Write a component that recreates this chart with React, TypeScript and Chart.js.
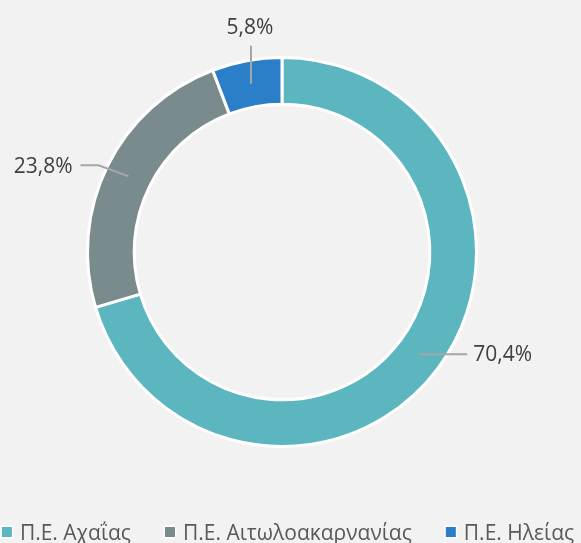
import React, { useEffect, useRef } from "react";
import { Chart, registerables } from "chart.js";

Chart.register(...registerables);

const categories = ["Π.Ε. Αχαΐας", "Π.Ε. Αιτωλοακαρνανίας", "Π.Ε. Ηλείας"];
const shares = [70.4, 23.8, 5.8];
const valueLabels = ["70,4%", "23,8%", "5,8%"];
const colors = ["#5bb6c0", "#798b8c", "#2a7fc8"];

const FONT = "'Open Sans', 'Noto Sans', sans-serif";

const leaderPlugin = {
  id: "leaders",
  afterDatasetsDraw(chart: any, _args: any, opts: any) {
    const ctx = chart.ctx;
    const meta = chart.getDatasetMeta(0);
    const layout = opts.layout as any[];
    meta.data.forEach((arc: any, i: number) => {
      const { x, y, startAngle, endAngle, innerRadius, outerRadius } = arc.getProps(
        ["x", "y", "startAngle", "endAngle", "innerRadius", "outerRadius"],
        true
      );
      const mid = (startAngle + endAngle) / 2;
      const r = (innerRadius + outerRadius) / 2;
      const px = x + Math.cos(mid) * r;
      const py = y + Math.sin(mid) * r;
      const L = layout[i];
      ctx.save();
      ctx.strokeStyle = "#a6a6a6";
      ctx.lineWidth = 2;
      ctx.beginPath();
      ctx.moveTo(px, py);
      const ex = px + L.dx;
      const ey = py + L.dy;
      ctx.lineTo(ex, ey);
      const hx = ex + (L.h || 0);
      if (L.h) ctx.lineTo(hx, ey);
      ctx.stroke();
      ctx.fillStyle = "#404040";
      ctx.font = `21px ${FONT}`;
      ctx.textBaseline = "middle";
      if (L.side === "right") {
        ctx.textAlign = "left";
        ctx.fillText(valueLabels[i], hx + 6, ey + 1);
      } else if (L.side === "left") {
        ctx.textAlign = "right";
        ctx.fillText(valueLabels[i], hx - 8, ey + 2);
      } else {
        ctx.textAlign = "center";
        ctx.fillText(valueLabels[i], ex - 1, ey - 18);
      }
      ctx.restore();
    });
  },
};

const legendPlugin = {
  id: "customLegend",
  afterDraw(chart: any, _args: any, opts: any) {
    const ctx = chart.ctx;
    const labels = chart.data.labels as string[];
    const bg = chart.data.datasets[0].backgroundColor as string[];
    ctx.save();
    ctx.font = `21px ${FONT}`;
    const box = 10;
    const gap = 8;
    const spacing = 34;
    const widths = labels.map((l) => box + gap + ctx.measureText(l).width);
    const total = widths.reduce((a, b) => a + b, 0) + spacing * (labels.length - 1);
    let x = opts.centerX - total / 2;
    const y = opts.y;
    labels.forEach((l, i) => {
      ctx.fillStyle = "#ffffff";
      ctx.fillRect(x - 1.5, y - box / 2 - 1.5, box + 3, box + 3);
      ctx.fillStyle = bg[i];
      ctx.fillRect(x, y - box / 2, box, box);
      ctx.fillStyle = "#595959";
      ctx.textBaseline = "middle";
      ctx.textAlign = "left";
      ctx.fillText(l, x + box + gap, y + 2);
      x += widths[i] + spacing;
    });
    ctx.restore();
  },
};

export default function App() {
  const ref = useRef<HTMLCanvasElement>(null);
  useEffect(() => {
    if (!ref.current) return;
    const chart = new Chart(ref.current, {
      type: "doughnut",
      data: {
        labels: categories,
        datasets: [
          {
            data: shares,
            backgroundColor: colors,
            borderColor: "#ffffff",
            borderWidth: 3,
          },
        ],
      },
      options: {
        responsive: false,
        animation: false,
        cutout: "76%",
        layout: { padding: { top: 56, bottom: 95, left: 86, right: 103 } },
        plugins: {
          legend: { display: false },
          tooltip: { enabled: false },
          leaders: {
            layout: [
              { dx: 48, dy: 0, side: "right" },
              { dx: -30, dy: -11, h: -18, side: "left" },
              { dx: 0, dy: -38, side: "top" },
            ],
          },
          customLegend: { centerX: 288, y: 532 },
        } as any,
      },
      plugins: [leaderPlugin, legendPlugin],
    });
    return () => chart.destroy();
  }, []);
  return (
    <div
      style={{
        position: "fixed",
        left: 0,
        top: 0,
        width: 581,
        height: 543,
        overflow: "hidden",
        background: "#f2f2f2",
      }}
    >
      <canvas ref={ref} width={581} height={543} style={{ display: "block" }} />
    </div>
  );
}
